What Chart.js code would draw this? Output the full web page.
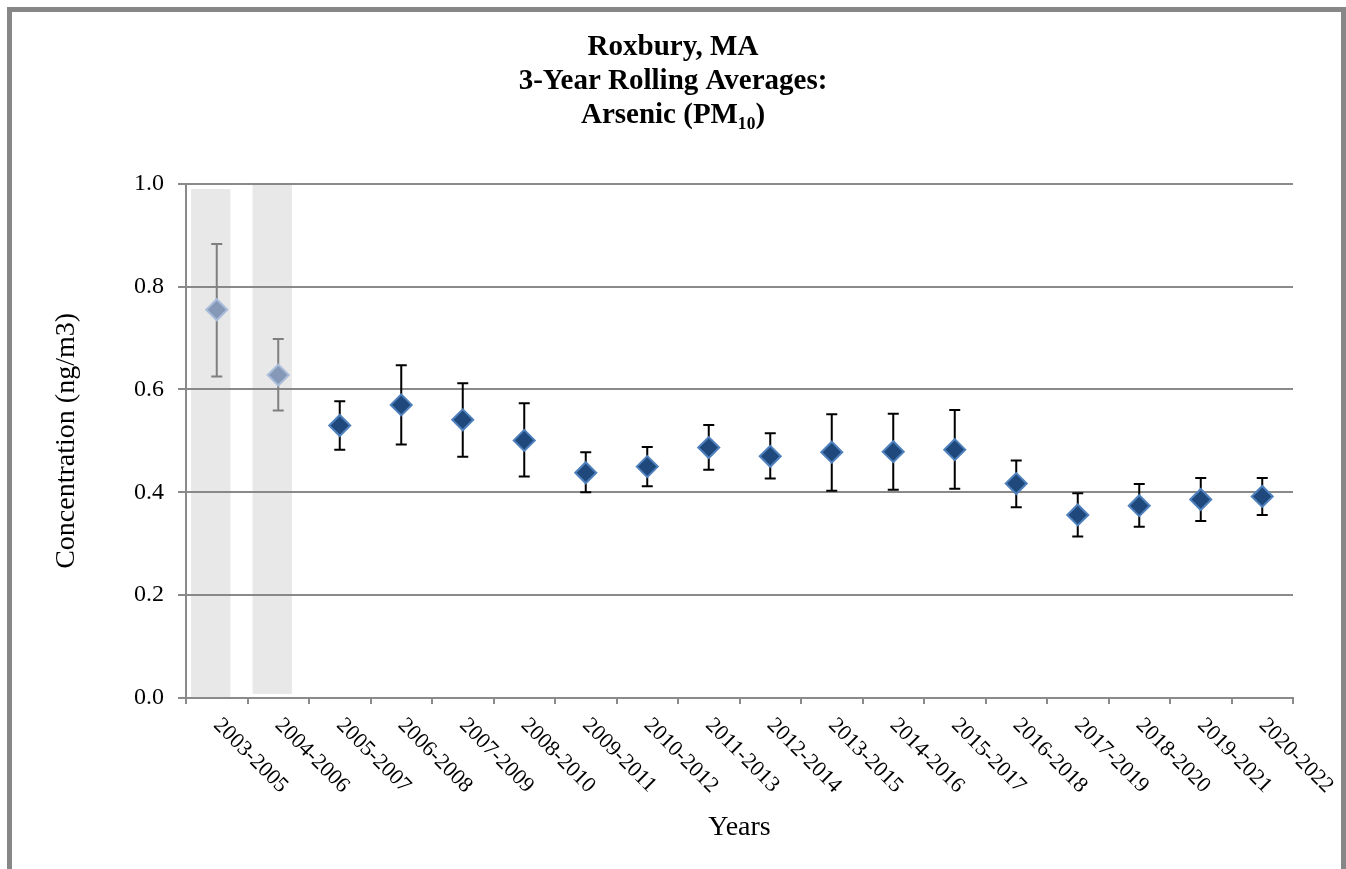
<!DOCTYPE html>
<html>
<head>
<meta charset="utf-8">
<script src="https://cdn.jsdelivr.net/npm/chart.js@4.4.1/dist/chart.umd.min.js"></script>
<style>
  html, body { margin: 0; padding: 0; overflow: hidden; background: #fff; }
  #frame { position: absolute; left: 7px; top: 7px; width: 1329px; height: 900px; border: 5px solid #878787; }
  #myChart { position: absolute; left: 0; top: 0; }
</style>
</head>
<body>
<div id="frame"></div>
<canvas id="myChart" width="1346" height="869"></canvas>
<script>
let labels = ['2003-2005', '2004-2006', '2005-2007', '2006-2008', '2007-2009', '2008-2010',
  '2009-2011', '2010-2012', '2011-2013', '2012-2014', '2013-2015', '2014-2016',
  '2015-2017', '2016-2018', '2017-2019', '2018-2020', '2019-2021', '2020-2022'];
let averages = [0.755, 0.628, 0.530, 0.570, 0.541, 0.501, 0.438, 0.450, 0.487,
  0.470, 0.478, 0.479, 0.483, 0.417, 0.356, 0.374, 0.386, 0.392];
let errHigh = [0.883, 0.698, 0.577, 0.647, 0.612, 0.573, 0.478, 0.488, 0.531,
  0.515, 0.552, 0.553, 0.560, 0.462, 0.398, 0.416, 0.428, 0.428];
let errLow = [0.625, 0.559, 0.483, 0.493, 0.469, 0.431, 0.400, 0.412, 0.444,
  0.427, 0.403, 0.405, 0.407, 0.371, 0.314, 0.333, 0.344, 0.356];
// periods shown greyed out, with their shaded band
let shaded = [0, 1];
let bandBase = [0, 0.008];
let bandTop = [0.99, 1.005];
let yTicks = [0, 0.2, 0.4, 0.6, 0.8, 1.0];

const serif = "'Liberation Serif', 'Times New Roman', serif";
const axisGrey = '#8a8a8a';
const bandShift = 6 / 61.5; // bands sit a little left of the markers

const errorBars = {
  id: 'errorBars',
  beforeDatasetDraw(chart, args) {
    if (args.index !== 1) return;
    const {ctx, scales: {x, y}} = chart;
    ctx.save();
    ctx.lineWidth = 2;
    labels.forEach((l, i) => {
      const px = x.getPixelForValue(i);
      const top = y.getPixelForValue(errHigh[i]);
      const bot = y.getPixelForValue(errLow[i]);
      ctx.strokeStyle = shaded.includes(i) ? '#7f7f7f' : '#000';
      ctx.beginPath();
      ctx.moveTo(px, top); ctx.lineTo(px, bot);
      ctx.moveTo(px - 5.5, top); ctx.lineTo(px + 5.5, top);
      ctx.moveTo(px - 5.5, bot); ctx.lineTo(px + 5.5, bot);
      ctx.stroke();
    });
    ctx.restore();
  }
};

// x labels run down to the right, which chart.js won't do on its own
const slantLabels = {
  id: 'slantLabels',
  afterDraw(chart) {
    const {ctx, chartArea, scales: {x}} = chart;
    ctx.save();
    ctx.font = '22px ' + serif;
    ctx.fillStyle = '#000';
    ctx.textAlign = 'left';
    ctx.textBaseline = 'middle';
    labels.forEach((l, i) => {
      ctx.save();
      ctx.translate(x.getPixelForValue(i), chartArea.bottom + 24);
      ctx.rotate(Math.PI / 4);
      ctx.fillText(l, 0, 0);
      ctx.restore();
    });
    ctx.restore();
  }
};

let ctx = document.getElementById('myChart').getContext('2d');
let myChart = new Chart(ctx, {
  type: 'line',
  data: {
    labels: labels,
    datasets: [{
      type: 'bar',
      xAxisID: 'xb',
      data: shaded.map((s, k) => ({x: s - bandShift, y: [bandBase[k], bandTop[k]]})),
      backgroundColor: 'rgba(128,128,128,0.18)',
      borderWidth: 0,
      grouped: false,
      categoryPercentage: 0.64,
      barPercentage: 1,
      order: 2
    }, {
      type: 'line',
      xAxisID: 'x',
      data: averages,
      showLine: false,
      pointStyle: 'rectRot',
      pointRadius: 10.5,
      pointHoverRadius: 10.5,
      pointBorderWidth: 2,
      pointBackgroundColor: labels.map((l, i) => shaded.includes(i) ? '#8598b8' : '#1f497d'),
      pointBorderColor: labels.map((l, i) => shaded.includes(i) ? '#a9bcd9' : '#4f81bd'),
      order: 1
    }]
  },
  options: {
    responsive: false,
    devicePixelRatio: 1,
    animation: false,
    layout: { padding: { top: 21, left: 0, right: 0, bottom: 0 } },
    plugins: {
      legend: { display: false },
      tooltip: { enabled: false },
      title: {
        display: true,
        text: ['Roxbury, MA', '3-Year Rolling Averages:', 'Arsenic (PM\u2081\u2080)'],
        color: '#000',
        font: { family: serif, size: 29, weight: 'bold', lineHeight: 1.17 },
        padding: { top: 10, bottom: 51 }
      }
    },
    scales: {
      x: {
        type: 'category',
        offset: true,
        grid: { offset: true, drawOnChartArea: false, drawTicks: true, tickLength: 6, color: axisGrey, lineWidth: 2 },
        border: { color: axisGrey, width: 2 },
        ticks: { display: false },
        title: { display: true, text: 'Years', color: '#000', font: { family: serif, size: 28 }, padding: { top: 0, bottom: 25 } },
        afterFit: s => { s.height = 171; }
      },
      // hidden axis matching the category slots, used only for the shaded bands
      xb: {
        type: 'linear',
        display: false,
        offset: false,
        grid: { offset: false },
        min: -0.5,
        max: 17.5
      },
      y: {
        min: 0,
        max: 1,
        afterBuildTicks: s => { s.ticks = yTicks.map(v => ({value: v})); },
        ticks: { callback: v => v.toFixed(1), color: '#000', font: { family: serif, size: 24 }, padding: 14 },
        grid: { color: axisGrey, lineWidth: 2, tickLength: 8 },
        border: { color: axisGrey, width: 2 },
        title: { display: true, text: 'Concentration (ng/m3)', color: '#000', font: { family: serif, size: 28 }, padding: { top: 50 } },
        afterFit: s => { s.width = 186; }
      },
      yr: {
        type: 'linear',
        position: 'right',
        ticks: { display: false },
        grid: { display: false },
        border: { display: false },
        afterFit: s => { s.width = 53; }
      }
    }
  },
  plugins: [errorBars, slantLabels]
});
</script>
</body>
</html>
